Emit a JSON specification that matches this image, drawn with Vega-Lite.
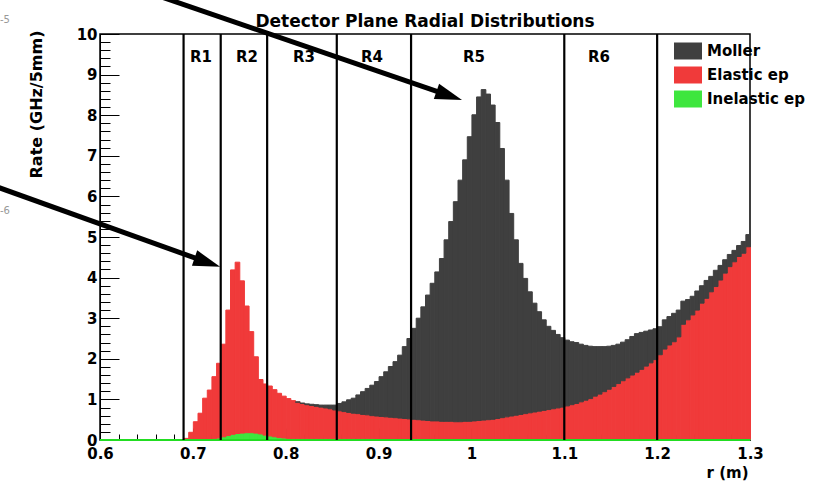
{
  "$schema": "https://vega.github.io/schema/vega-lite/v6.json",
  "width": 650,
  "height": 406,
  "autosize": {"type": "none"},
  "padding": {"left": 100, "top": 34, "right": 76, "bottom": 43},
  "background": "white",
  "title": {"text": "Detector Plane Radial Distributions", "font": "DejaVu Sans", "fontSize": 17, "fontWeight": "bold", "color": "black", "anchor": "middle", "baseline": "alphabetic", "offset": 0, "dy": 53.5, "frame": "group"},
  "config": {
    "view": {"stroke": "black", "strokeWidth": 1.5},
    "axis": {"grid": false, "domainColor": "black", "tickColor": "black", "labelColor": "black", "titleColor": "black", "labelFont": "DejaVu Sans", "labelFontWeight": "bold", "labelFontSize": 15, "titleFont": "DejaVu Sans", "titleFontWeight": "bold", "labelOverlap": false, "labelFlush": false}
  },
  "datasets": {
    "hist": [
      {"r":0.7,"r2":0.705,"s":"Inelastic ep","v":0.01,"k":1},
      {"r":0.705,"r2":0.71,"s":"Inelastic ep","v":0.01,"k":1},
      {"r":0.71,"r2":0.715,"s":"Inelastic ep","v":0.02,"k":1},
      {"r":0.715,"r2":0.72,"s":"Inelastic ep","v":0.02,"k":1},
      {"r":0.72,"r2":0.725,"s":"Inelastic ep","v":0.03,"k":1},
      {"r":0.725,"r2":0.73,"s":"Inelastic ep","v":0.05,"k":1},
      {"r":0.73,"r2":0.735,"s":"Inelastic ep","v":0.08,"k":1},
      {"r":0.735,"r2":0.74,"s":"Inelastic ep","v":0.11,"k":1},
      {"r":0.74,"r2":0.745,"s":"Inelastic ep","v":0.14,"k":1},
      {"r":0.745,"r2":0.75,"s":"Inelastic ep","v":0.16,"k":1},
      {"r":0.75,"r2":0.755,"s":"Inelastic ep","v":0.17,"k":1},
      {"r":0.755,"r2":0.76,"s":"Inelastic ep","v":0.18,"k":1},
      {"r":0.76,"r2":0.765,"s":"Inelastic ep","v":0.18,"k":1},
      {"r":0.765,"r2":0.77,"s":"Inelastic ep","v":0.17,"k":1},
      {"r":0.77,"r2":0.775,"s":"Inelastic ep","v":0.15,"k":1},
      {"r":0.775,"r2":0.78,"s":"Inelastic ep","v":0.12,"k":1},
      {"r":0.78,"r2":0.785,"s":"Inelastic ep","v":0.1,"k":1},
      {"r":0.785,"r2":0.79,"s":"Inelastic ep","v":0.08,"k":1},
      {"r":0.79,"r2":0.795,"s":"Inelastic ep","v":0.06,"k":1},
      {"r":0.795,"r2":0.8,"s":"Inelastic ep","v":0.05,"k":1},
      {"r":0.8,"r2":0.805,"s":"Inelastic ep","v":0.04,"k":1},
      {"r":0.805,"r2":0.81,"s":"Inelastic ep","v":0.03,"k":1},
      {"r":0.81,"r2":0.815,"s":"Inelastic ep","v":0.03,"k":1},
      {"r":0.815,"r2":0.82,"s":"Inelastic ep","v":0.03,"k":1},
      {"r":0.82,"r2":0.825,"s":"Inelastic ep","v":0.03,"k":1},
      {"r":0.825,"r2":0.83,"s":"Inelastic ep","v":0.03,"k":1},
      {"r":0.83,"r2":0.835,"s":"Inelastic ep","v":0.03,"k":1},
      {"r":0.835,"r2":0.84,"s":"Inelastic ep","v":0.03,"k":1},
      {"r":0.84,"r2":0.845,"s":"Inelastic ep","v":0.03,"k":1},
      {"r":0.845,"r2":0.85,"s":"Inelastic ep","v":0.03,"k":1},
      {"r":0.85,"r2":0.855,"s":"Inelastic ep","v":0.03,"k":1},
      {"r":0.855,"r2":0.86,"s":"Inelastic ep","v":0.03,"k":1},
      {"r":0.86,"r2":0.865,"s":"Inelastic ep","v":0.03,"k":1},
      {"r":0.865,"r2":0.87,"s":"Inelastic ep","v":0.03,"k":1},
      {"r":0.87,"r2":0.875,"s":"Inelastic ep","v":0.03,"k":1},
      {"r":0.875,"r2":0.88,"s":"Inelastic ep","v":0.03,"k":1},
      {"r":0.88,"r2":0.885,"s":"Inelastic ep","v":0.03,"k":1},
      {"r":0.885,"r2":0.89,"s":"Inelastic ep","v":0.03,"k":1},
      {"r":0.89,"r2":0.895,"s":"Inelastic ep","v":0.03,"k":1},
      {"r":0.895,"r2":0.9,"s":"Inelastic ep","v":0.02,"k":1},
      {"r":0.9,"r2":0.905,"s":"Inelastic ep","v":0.02,"k":1},
      {"r":0.905,"r2":0.91,"s":"Inelastic ep","v":0.02,"k":1},
      {"r":0.91,"r2":0.915,"s":"Inelastic ep","v":0.02,"k":1},
      {"r":0.915,"r2":0.92,"s":"Inelastic ep","v":0.02,"k":1},
      {"r":0.92,"r2":0.925,"s":"Inelastic ep","v":0.02,"k":1},
      {"r":0.925,"r2":0.93,"s":"Inelastic ep","v":0.02,"k":1},
      {"r":0.93,"r2":0.935,"s":"Inelastic ep","v":0.02,"k":1},
      {"r":0.935,"r2":0.94,"s":"Inelastic ep","v":0.02,"k":1},
      {"r":0.94,"r2":0.945,"s":"Inelastic ep","v":0.02,"k":1},
      {"r":0.945,"r2":0.95,"s":"Inelastic ep","v":0.02,"k":1},
      {"r":0.95,"r2":0.955,"s":"Inelastic ep","v":0.02,"k":1},
      {"r":0.955,"r2":0.96,"s":"Inelastic ep","v":0.02,"k":1},
      {"r":0.96,"r2":0.965,"s":"Inelastic ep","v":0.02,"k":1},
      {"r":0.965,"r2":0.97,"s":"Inelastic ep","v":0.02,"k":1},
      {"r":0.97,"r2":0.975,"s":"Inelastic ep","v":0.02,"k":1},
      {"r":0.975,"r2":0.98,"s":"Inelastic ep","v":0.02,"k":1},
      {"r":0.98,"r2":0.985,"s":"Inelastic ep","v":0.02,"k":1},
      {"r":0.985,"r2":0.99,"s":"Inelastic ep","v":0.02,"k":1},
      {"r":0.99,"r2":0.995,"s":"Inelastic ep","v":0.02,"k":1},
      {"r":0.995,"r2":1,"s":"Inelastic ep","v":0.02,"k":1},
      {"r":1,"r2":1.005,"s":"Inelastic ep","v":0.02,"k":1},
      {"r":1.005,"r2":1.01,"s":"Inelastic ep","v":0.02,"k":1},
      {"r":1.01,"r2":1.015,"s":"Inelastic ep","v":0.02,"k":1},
      {"r":1.015,"r2":1.02,"s":"Inelastic ep","v":0.02,"k":1},
      {"r":1.02,"r2":1.025,"s":"Inelastic ep","v":0.02,"k":1},
      {"r":1.025,"r2":1.03,"s":"Inelastic ep","v":0.02,"k":1},
      {"r":1.03,"r2":1.035,"s":"Inelastic ep","v":0.02,"k":1},
      {"r":1.035,"r2":1.04,"s":"Inelastic ep","v":0.02,"k":1},
      {"r":1.04,"r2":1.045,"s":"Inelastic ep","v":0.02,"k":1},
      {"r":1.045,"r2":1.05,"s":"Inelastic ep","v":0.02,"k":1},
      {"r":1.05,"r2":1.055,"s":"Inelastic ep","v":0.02,"k":1},
      {"r":1.055,"r2":1.06,"s":"Inelastic ep","v":0.02,"k":1},
      {"r":1.06,"r2":1.065,"s":"Inelastic ep","v":0.02,"k":1},
      {"r":1.065,"r2":1.07,"s":"Inelastic ep","v":0.02,"k":1},
      {"r":1.07,"r2":1.075,"s":"Inelastic ep","v":0.02,"k":1},
      {"r":1.075,"r2":1.08,"s":"Inelastic ep","v":0.02,"k":1},
      {"r":1.08,"r2":1.085,"s":"Inelastic ep","v":0.02,"k":1},
      {"r":1.085,"r2":1.09,"s":"Inelastic ep","v":0.02,"k":1},
      {"r":1.09,"r2":1.095,"s":"Inelastic ep","v":0.02,"k":1},
      {"r":1.095,"r2":1.1,"s":"Inelastic ep","v":0.02,"k":1},
      {"r":1.1,"r2":1.105,"s":"Inelastic ep","v":0.02,"k":1},
      {"r":1.105,"r2":1.11,"s":"Inelastic ep","v":0.02,"k":1},
      {"r":1.11,"r2":1.115,"s":"Inelastic ep","v":0.02,"k":1},
      {"r":1.115,"r2":1.12,"s":"Inelastic ep","v":0.02,"k":1},
      {"r":1.12,"r2":1.125,"s":"Inelastic ep","v":0.02,"k":1},
      {"r":1.125,"r2":1.13,"s":"Inelastic ep","v":0.02,"k":1},
      {"r":1.13,"r2":1.135,"s":"Inelastic ep","v":0.02,"k":1},
      {"r":1.135,"r2":1.14,"s":"Inelastic ep","v":0.02,"k":1},
      {"r":1.14,"r2":1.145,"s":"Inelastic ep","v":0.02,"k":1},
      {"r":1.145,"r2":1.15,"s":"Inelastic ep","v":0.02,"k":1},
      {"r":1.15,"r2":1.155,"s":"Inelastic ep","v":0.02,"k":1},
      {"r":1.155,"r2":1.16,"s":"Inelastic ep","v":0.02,"k":1},
      {"r":1.16,"r2":1.165,"s":"Inelastic ep","v":0.02,"k":1},
      {"r":1.165,"r2":1.17,"s":"Inelastic ep","v":0.02,"k":1},
      {"r":1.17,"r2":1.175,"s":"Inelastic ep","v":0.02,"k":1},
      {"r":1.175,"r2":1.18,"s":"Inelastic ep","v":0.02,"k":1},
      {"r":1.18,"r2":1.185,"s":"Inelastic ep","v":0.02,"k":1},
      {"r":1.185,"r2":1.19,"s":"Inelastic ep","v":0.02,"k":1},
      {"r":1.19,"r2":1.195,"s":"Inelastic ep","v":0.02,"k":1},
      {"r":1.195,"r2":1.2,"s":"Inelastic ep","v":0.02,"k":1},
      {"r":1.2,"r2":1.205,"s":"Inelastic ep","v":0.02,"k":1},
      {"r":1.205,"r2":1.21,"s":"Inelastic ep","v":0.02,"k":1},
      {"r":1.21,"r2":1.215,"s":"Inelastic ep","v":0.02,"k":1},
      {"r":1.215,"r2":1.22,"s":"Inelastic ep","v":0.02,"k":1},
      {"r":1.22,"r2":1.225,"s":"Inelastic ep","v":0.02,"k":1},
      {"r":1.225,"r2":1.23,"s":"Inelastic ep","v":0.02,"k":1},
      {"r":1.23,"r2":1.235,"s":"Inelastic ep","v":0.02,"k":1},
      {"r":1.235,"r2":1.24,"s":"Inelastic ep","v":0.02,"k":1},
      {"r":1.24,"r2":1.245,"s":"Inelastic ep","v":0.02,"k":1},
      {"r":1.245,"r2":1.25,"s":"Inelastic ep","v":0.02,"k":1},
      {"r":1.25,"r2":1.255,"s":"Inelastic ep","v":0.02,"k":1},
      {"r":1.255,"r2":1.26,"s":"Inelastic ep","v":0.02,"k":1},
      {"r":1.26,"r2":1.265,"s":"Inelastic ep","v":0.02,"k":1},
      {"r":1.265,"r2":1.27,"s":"Inelastic ep","v":0.02,"k":1},
      {"r":1.27,"r2":1.275,"s":"Inelastic ep","v":0.02,"k":1},
      {"r":1.275,"r2":1.28,"s":"Inelastic ep","v":0.02,"k":1},
      {"r":1.28,"r2":1.285,"s":"Inelastic ep","v":0.02,"k":1},
      {"r":1.285,"r2":1.29,"s":"Inelastic ep","v":0.02,"k":1},
      {"r":1.29,"r2":1.295,"s":"Inelastic ep","v":0.02,"k":1},
      {"r":1.295,"r2":1.3,"s":"Inelastic ep","v":0.02,"k":1},

      {"r":0.69,"r2":0.695,"s":"Elastic ep","v":0.04,"k":2},
      {"r":0.695,"r2":0.7,"s":"Elastic ep","v":0.19,"k":2},
      {"r":0.7,"r2":0.705,"s":"Elastic ep","v":0.44,"k":2},
      {"r":0.705,"r2":0.71,"s":"Elastic ep","v":0.65,"k":2},
      {"r":0.71,"r2":0.715,"s":"Elastic ep","v":1.01,"k":2},
      {"r":0.715,"r2":0.72,"s":"Elastic ep","v":1.21,"k":2},
      {"r":0.72,"r2":0.725,"s":"Elastic ep","v":1.53,"k":2},
      {"r":0.725,"r2":0.73,"s":"Elastic ep","v":1.84,"k":2},
      {"r":0.73,"r2":0.735,"s":"Elastic ep","v":2.28,"k":2},
      {"r":0.735,"r2":0.74,"s":"Elastic ep","v":3.09,"k":2},
      {"r":0.74,"r2":0.745,"s":"Elastic ep","v":4.05,"k":2},
      {"r":0.745,"r2":0.75,"s":"Elastic ep","v":4.22,"k":2},
      {"r":0.75,"r2":0.755,"s":"Elastic ep","v":3.75,"k":2},
      {"r":0.755,"r2":0.76,"s":"Elastic ep","v":3.12,"k":2},
      {"r":0.76,"r2":0.765,"s":"Elastic ep","v":2.49,"k":2},
      {"r":0.765,"r2":0.77,"s":"Elastic ep","v":1.88,"k":2},
      {"r":0.77,"r2":0.775,"s":"Elastic ep","v":1.34,"k":2},
      {"r":0.775,"r2":0.78,"s":"Elastic ep","v":1.26,"k":2},
      {"r":0.78,"r2":0.785,"s":"Elastic ep","v":1.23,"k":2},
      {"r":0.785,"r2":0.79,"s":"Elastic ep","v":1.16,"k":2},
      {"r":0.79,"r2":0.795,"s":"Elastic ep","v":1.09,"k":2},
      {"r":0.795,"r2":0.8,"s":"Elastic ep","v":1.03,"k":2},
      {"r":0.8,"r2":0.805,"s":"Elastic ep","v":0.98,"k":2},
      {"r":0.805,"r2":0.81,"s":"Elastic ep","v":0.94,"k":2},
      {"r":0.81,"r2":0.815,"s":"Elastic ep","v":0.9,"k":2},
      {"r":0.815,"r2":0.82,"s":"Elastic ep","v":0.87,"k":2},
      {"r":0.82,"r2":0.825,"s":"Elastic ep","v":0.84,"k":2},
      {"r":0.825,"r2":0.83,"s":"Elastic ep","v":0.82,"k":2},
      {"r":0.83,"r2":0.835,"s":"Elastic ep","v":0.8,"k":2},
      {"r":0.835,"r2":0.84,"s":"Elastic ep","v":0.78,"k":2},
      {"r":0.84,"r2":0.845,"s":"Elastic ep","v":0.76,"k":2},
      {"r":0.845,"r2":0.85,"s":"Elastic ep","v":0.74,"k":2},
      {"r":0.85,"r2":0.855,"s":"Elastic ep","v":0.71,"k":2},
      {"r":0.855,"r2":0.86,"s":"Elastic ep","v":0.69,"k":2},
      {"r":0.86,"r2":0.865,"s":"Elastic ep","v":0.67,"k":2},
      {"r":0.865,"r2":0.87,"s":"Elastic ep","v":0.65,"k":2},
      {"r":0.87,"r2":0.875,"s":"Elastic ep","v":0.63,"k":2},
      {"r":0.875,"r2":0.88,"s":"Elastic ep","v":0.62,"k":2},
      {"r":0.88,"r2":0.885,"s":"Elastic ep","v":0.6,"k":2},
      {"r":0.885,"r2":0.89,"s":"Elastic ep","v":0.59,"k":2},
      {"r":0.89,"r2":0.895,"s":"Elastic ep","v":0.57,"k":2},
      {"r":0.895,"r2":0.9,"s":"Elastic ep","v":0.57,"k":2},
      {"r":0.9,"r2":0.905,"s":"Elastic ep","v":0.56,"k":2},
      {"r":0.905,"r2":0.91,"s":"Elastic ep","v":0.55,"k":2},
      {"r":0.91,"r2":0.915,"s":"Elastic ep","v":0.54,"k":2},
      {"r":0.915,"r2":0.92,"s":"Elastic ep","v":0.53,"k":2},
      {"r":0.92,"r2":0.925,"s":"Elastic ep","v":0.52,"k":2},
      {"r":0.925,"r2":0.93,"s":"Elastic ep","v":0.51,"k":2},
      {"r":0.93,"r2":0.935,"s":"Elastic ep","v":0.5,"k":2},
      {"r":0.935,"r2":0.94,"s":"Elastic ep","v":0.49,"k":2},
      {"r":0.94,"r2":0.945,"s":"Elastic ep","v":0.48,"k":2},
      {"r":0.945,"r2":0.95,"s":"Elastic ep","v":0.47,"k":2},
      {"r":0.95,"r2":0.955,"s":"Elastic ep","v":0.46,"k":2},
      {"r":0.955,"r2":0.96,"s":"Elastic ep","v":0.45,"k":2},
      {"r":0.96,"r2":0.965,"s":"Elastic ep","v":0.45,"k":2},
      {"r":0.965,"r2":0.97,"s":"Elastic ep","v":0.44,"k":2},
      {"r":0.97,"r2":0.975,"s":"Elastic ep","v":0.44,"k":2},
      {"r":0.975,"r2":0.98,"s":"Elastic ep","v":0.44,"k":2},
      {"r":0.98,"r2":0.985,"s":"Elastic ep","v":0.43,"k":2},
      {"r":0.985,"r2":0.99,"s":"Elastic ep","v":0.43,"k":2},
      {"r":0.99,"r2":0.995,"s":"Elastic ep","v":0.44,"k":2},
      {"r":0.995,"r2":1,"s":"Elastic ep","v":0.44,"k":2},
      {"r":1,"r2":1.005,"s":"Elastic ep","v":0.45,"k":2},
      {"r":1.005,"r2":1.01,"s":"Elastic ep","v":0.46,"k":2},
      {"r":1.01,"r2":1.015,"s":"Elastic ep","v":0.47,"k":2},
      {"r":1.015,"r2":1.02,"s":"Elastic ep","v":0.48,"k":2},
      {"r":1.02,"r2":1.025,"s":"Elastic ep","v":0.49,"k":2},
      {"r":1.025,"r2":1.03,"s":"Elastic ep","v":0.51,"k":2},
      {"r":1.03,"r2":1.035,"s":"Elastic ep","v":0.53,"k":2},
      {"r":1.035,"r2":1.04,"s":"Elastic ep","v":0.55,"k":2},
      {"r":1.04,"r2":1.045,"s":"Elastic ep","v":0.57,"k":2},
      {"r":1.045,"r2":1.05,"s":"Elastic ep","v":0.59,"k":2},
      {"r":1.05,"r2":1.055,"s":"Elastic ep","v":0.61,"k":2},
      {"r":1.055,"r2":1.06,"s":"Elastic ep","v":0.63,"k":2},
      {"r":1.06,"r2":1.065,"s":"Elastic ep","v":0.65,"k":2},
      {"r":1.065,"r2":1.07,"s":"Elastic ep","v":0.67,"k":2},
      {"r":1.07,"r2":1.075,"s":"Elastic ep","v":0.69,"k":2},
      {"r":1.075,"r2":1.08,"s":"Elastic ep","v":0.71,"k":2},
      {"r":1.08,"r2":1.085,"s":"Elastic ep","v":0.73,"k":2},
      {"r":1.085,"r2":1.09,"s":"Elastic ep","v":0.75,"k":2},
      {"r":1.09,"r2":1.095,"s":"Elastic ep","v":0.77,"k":2},
      {"r":1.095,"r2":1.1,"s":"Elastic ep","v":0.79,"k":2},
      {"r":1.1,"r2":1.105,"s":"Elastic ep","v":0.82,"k":2},
      {"r":1.105,"r2":1.11,"s":"Elastic ep","v":0.85,"k":2},
      {"r":1.11,"r2":1.115,"s":"Elastic ep","v":0.88,"k":2},
      {"r":1.115,"r2":1.12,"s":"Elastic ep","v":0.92,"k":2},
      {"r":1.12,"r2":1.125,"s":"Elastic ep","v":0.96,"k":2},
      {"r":1.125,"r2":1.13,"s":"Elastic ep","v":1.0,"k":2},
      {"r":1.13,"r2":1.135,"s":"Elastic ep","v":1.06,"k":2},
      {"r":1.135,"r2":1.14,"s":"Elastic ep","v":1.11,"k":2},
      {"r":1.14,"r2":1.145,"s":"Elastic ep","v":1.17,"k":2},
      {"r":1.145,"r2":1.15,"s":"Elastic ep","v":1.23,"k":2},
      {"r":1.15,"r2":1.155,"s":"Elastic ep","v":1.3,"k":2},
      {"r":1.155,"r2":1.16,"s":"Elastic ep","v":1.37,"k":2},
      {"r":1.16,"r2":1.165,"s":"Elastic ep","v":1.44,"k":2},
      {"r":1.165,"r2":1.17,"s":"Elastic ep","v":1.51,"k":2},
      {"r":1.17,"r2":1.175,"s":"Elastic ep","v":1.58,"k":2},
      {"r":1.175,"r2":1.18,"s":"Elastic ep","v":1.65,"k":2},
      {"r":1.18,"r2":1.185,"s":"Elastic ep","v":1.72,"k":2},
      {"r":1.185,"r2":1.19,"s":"Elastic ep","v":1.8,"k":2},
      {"r":1.19,"r2":1.195,"s":"Elastic ep","v":1.88,"k":2},
      {"r":1.195,"r2":1.2,"s":"Elastic ep","v":1.96,"k":2},
      {"r":1.2,"r2":1.205,"s":"Elastic ep","v":2.08,"k":2},
      {"r":1.205,"r2":1.21,"s":"Elastic ep","v":2.22,"k":2},
      {"r":1.21,"r2":1.215,"s":"Elastic ep","v":2.32,"k":2},
      {"r":1.215,"r2":1.22,"s":"Elastic ep","v":2.4,"k":2},
      {"r":1.22,"r2":1.225,"s":"Elastic ep","v":2.52,"k":2},
      {"r":1.225,"r2":1.23,"s":"Elastic ep","v":2.83,"k":2},
      {"r":1.23,"r2":1.235,"s":"Elastic ep","v":2.94,"k":2},
      {"r":1.235,"r2":1.24,"s":"Elastic ep","v":3.06,"k":2},
      {"r":1.24,"r2":1.245,"s":"Elastic ep","v":3.18,"k":2},
      {"r":1.245,"r2":1.25,"s":"Elastic ep","v":3.35,"k":2},
      {"r":1.25,"r2":1.255,"s":"Elastic ep","v":3.47,"k":2},
      {"r":1.255,"r2":1.26,"s":"Elastic ep","v":3.63,"k":2},
      {"r":1.26,"r2":1.265,"s":"Elastic ep","v":3.76,"k":2},
      {"r":1.265,"r2":1.27,"s":"Elastic ep","v":3.92,"k":2},
      {"r":1.27,"r2":1.275,"s":"Elastic ep","v":4.09,"k":2},
      {"r":1.275,"r2":1.28,"s":"Elastic ep","v":4.25,"k":2},
      {"r":1.28,"r2":1.285,"s":"Elastic ep","v":4.37,"k":2},
      {"r":1.285,"r2":1.29,"s":"Elastic ep","v":4.5,"k":2},
      {"r":1.29,"r2":1.295,"s":"Elastic ep","v":4.58,"k":2},
      {"r":1.295,"r2":1.3,"s":"Elastic ep","v":4.74,"k":2},

      {"r":0.81,"r2":0.815,"s":"Moller","v":0.01,"k":3},
      {"r":0.815,"r2":0.82,"s":"Moller","v":0.01,"k":3},
      {"r":0.82,"r2":0.825,"s":"Moller","v":0.02,"k":3},
      {"r":0.825,"r2":0.83,"s":"Moller","v":0.03,"k":3},
      {"r":0.83,"r2":0.835,"s":"Moller","v":0.04,"k":3},
      {"r":0.835,"r2":0.84,"s":"Moller","v":0.05,"k":3},
      {"r":0.84,"r2":0.845,"s":"Moller","v":0.07,"k":3},
      {"r":0.845,"r2":0.85,"s":"Moller","v":0.09,"k":3},
      {"r":0.85,"r2":0.855,"s":"Moller","v":0.12,"k":3},
      {"r":0.855,"r2":0.86,"s":"Moller","v":0.18,"k":3},
      {"r":0.86,"r2":0.865,"s":"Moller","v":0.24,"k":3},
      {"r":0.865,"r2":0.87,"s":"Moller","v":0.31,"k":3},
      {"r":0.87,"r2":0.875,"s":"Moller","v":0.37,"k":3},
      {"r":0.875,"r2":0.88,"s":"Moller","v":0.46,"k":3},
      {"r":0.88,"r2":0.885,"s":"Moller","v":0.56,"k":3},
      {"r":0.885,"r2":0.89,"s":"Moller","v":0.65,"k":3},
      {"r":0.89,"r2":0.895,"s":"Moller","v":0.75,"k":3},
      {"r":0.895,"r2":0.9,"s":"Moller","v":0.85,"k":3},
      {"r":0.9,"r2":0.905,"s":"Moller","v":0.98,"k":3},
      {"r":0.905,"r2":0.91,"s":"Moller","v":1.11,"k":3},
      {"r":0.91,"r2":0.915,"s":"Moller","v":1.25,"k":3},
      {"r":0.915,"r2":0.92,"s":"Moller","v":1.38,"k":3},
      {"r":0.92,"r2":0.925,"s":"Moller","v":1.55,"k":3},
      {"r":0.925,"r2":0.93,"s":"Moller","v":1.77,"k":3},
      {"r":0.93,"r2":0.935,"s":"Moller","v":1.98,"k":3},
      {"r":0.935,"r2":0.94,"s":"Moller","v":2.24,"k":3},
      {"r":0.94,"r2":0.945,"s":"Moller","v":2.5,"k":3},
      {"r":0.945,"r2":0.95,"s":"Moller","v":2.79,"k":3},
      {"r":0.95,"r2":0.955,"s":"Moller","v":3.09,"k":3},
      {"r":0.955,"r2":0.96,"s":"Moller","v":3.39,"k":3},
      {"r":0.96,"r2":0.965,"s":"Moller","v":3.67,"k":3},
      {"r":0.965,"r2":0.97,"s":"Moller","v":4.01,"k":3},
      {"r":0.97,"r2":0.975,"s":"Moller","v":4.47,"k":3},
      {"r":0.975,"r2":0.98,"s":"Moller","v":4.92,"k":3},
      {"r":0.98,"r2":0.985,"s":"Moller","v":5.42,"k":3},
      {"r":0.985,"r2":0.99,"s":"Moller","v":5.95,"k":3},
      {"r":0.99,"r2":0.995,"s":"Moller","v":6.44,"k":3},
      {"r":0.995,"r2":1,"s":"Moller","v":7.01,"k":3},
      {"r":1,"r2":1.005,"s":"Moller","v":7.54,"k":3},
      {"r":1.005,"r2":1.01,"s":"Moller","v":7.97,"k":3},
      {"r":1.01,"r2":1.015,"s":"Moller","v":8.14,"k":3},
      {"r":1.015,"r2":1.02,"s":"Moller","v":8.02,"k":3},
      {"r":1.02,"r2":1.025,"s":"Moller","v":7.74,"k":3},
      {"r":1.025,"r2":1.03,"s":"Moller","v":7.29,"k":3},
      {"r":1.03,"r2":1.035,"s":"Moller","v":6.63,"k":3},
      {"r":1.035,"r2":1.04,"s":"Moller","v":5.83,"k":3},
      {"r":1.04,"r2":1.045,"s":"Moller","v":4.99,"k":3},
      {"r":1.045,"r2":1.05,"s":"Moller","v":4.32,"k":3},
      {"r":1.05,"r2":1.055,"s":"Moller","v":3.72,"k":3},
      {"r":1.055,"r2":1.06,"s":"Moller","v":3.33,"k":3},
      {"r":1.06,"r2":1.065,"s":"Moller","v":2.98,"k":3},
      {"r":1.065,"r2":1.07,"s":"Moller","v":2.68,"k":3},
      {"r":1.07,"r2":1.075,"s":"Moller","v":2.45,"k":3},
      {"r":1.075,"r2":1.08,"s":"Moller","v":2.23,"k":3},
      {"r":1.08,"r2":1.085,"s":"Moller","v":2.05,"k":3},
      {"r":1.085,"r2":1.09,"s":"Moller","v":1.93,"k":3},
      {"r":1.09,"r2":1.095,"s":"Moller","v":1.81,"k":3},
      {"r":1.095,"r2":1.1,"s":"Moller","v":1.71,"k":3},
      {"r":1.1,"r2":1.105,"s":"Moller","v":1.62,"k":3},
      {"r":1.105,"r2":1.11,"s":"Moller","v":1.55,"k":3},
      {"r":1.11,"r2":1.115,"s":"Moller","v":1.5,"k":3},
      {"r":1.115,"r2":1.12,"s":"Moller","v":1.42,"k":3},
      {"r":1.12,"r2":1.125,"s":"Moller","v":1.35,"k":3},
      {"r":1.125,"r2":1.13,"s":"Moller","v":1.29,"k":3},
      {"r":1.13,"r2":1.135,"s":"Moller","v":1.22,"k":3},
      {"r":1.135,"r2":1.14,"s":"Moller","v":1.17,"k":3},
      {"r":1.14,"r2":1.145,"s":"Moller","v":1.11,"k":3},
      {"r":1.145,"r2":1.15,"s":"Moller","v":1.06,"k":3},
      {"r":1.15,"r2":1.155,"s":"Moller","v":1.01,"k":3},
      {"r":1.155,"r2":1.16,"s":"Moller","v":0.97,"k":3},
      {"r":1.16,"r2":1.165,"s":"Moller","v":0.95,"k":3},
      {"r":1.165,"r2":1.17,"s":"Moller","v":0.94,"k":3},
      {"r":1.17,"r2":1.175,"s":"Moller","v":0.95,"k":3},
      {"r":1.175,"r2":1.18,"s":"Moller","v":0.95,"k":3},
      {"r":1.18,"r2":1.185,"s":"Moller","v":0.91,"k":3},
      {"r":1.185,"r2":1.19,"s":"Moller","v":0.86,"k":3},
      {"r":1.19,"r2":1.195,"s":"Moller","v":0.81,"k":3},
      {"r":1.195,"r2":1.2,"s":"Moller","v":0.76,"k":3},
      {"r":1.2,"r2":1.205,"s":"Moller","v":0.69,"k":3},
      {"r":1.205,"r2":1.21,"s":"Moller","v":0.72,"k":3},
      {"r":1.21,"r2":1.215,"s":"Moller","v":0.7,"k":3},
      {"r":1.215,"r2":1.22,"s":"Moller","v":0.7,"k":3},
      {"r":1.22,"r2":1.225,"s":"Moller","v":0.66,"k":3},
      {"r":1.225,"r2":1.23,"s":"Moller","v":0.57,"k":3},
      {"r":1.23,"r2":1.235,"s":"Moller","v":0.5,"k":3},
      {"r":1.235,"r2":1.24,"s":"Moller","v":0.46,"k":3},
      {"r":1.24,"r2":1.245,"s":"Moller","v":0.47,"k":3},
      {"r":1.245,"r2":1.25,"s":"Moller","v":0.43,"k":3},
      {"r":1.25,"r2":1.255,"s":"Moller","v":0.44,"k":3},
      {"r":1.255,"r2":1.26,"s":"Moller","v":0.38,"k":3},
      {"r":1.26,"r2":1.265,"s":"Moller","v":0.4,"k":3},
      {"r":1.265,"r2":1.27,"s":"Moller","v":0.36,"k":3},
      {"r":1.27,"r2":1.275,"s":"Moller","v":0.33,"k":3},
      {"r":1.275,"r2":1.28,"s":"Moller","v":0.3,"k":3},
      {"r":1.28,"r2":1.285,"s":"Moller","v":0.28,"k":3},
      {"r":1.285,"r2":1.29,"s":"Moller","v":0.27,"k":3},
      {"r":1.29,"r2":1.295,"s":"Moller","v":0.29,"k":3},
      {"r":1.295,"r2":1.3,"s":"Moller","v":0.3,"k":3}
    ],
    "rings": [
      {"edge": 0.69}, {"edge": 0.73}, {"edge": 0.78}, {"edge": 0.855}, {"edge": 0.935}, {"edge": 1.1}, {"edge": 1.2}
    ],
    "ringLabels": [
      {"name": "R1", "c": 0.7088},
      {"name": "R2", "c": 0.7583},
      {"name": "R3", "c": 0.8197},
      {"name": "R4", "c": 0.8929},
      {"name": "R5", "c": 1.0028},
      {"name": "R6", "c": 1.1374}
    ],
    "arrows": [
      {"x0": 0.6538, "y0": 11.01, "x1": 0.9761, "y1": 8.48},
      {"x0": 0.4869, "y0": 6.251, "x1": 0.7156, "y1": 4.374}
    ],
    "frags": [
      {"t": "-5", "x": 0.4923, "y": 10.34},
      {"t": "-6", "x": 0.4923, "y": 5.64}
    ],
    "base": [
      {"a": 0.6, "b": 1.3, "z": 0}
    ]
  },
  "layer": [
    {
      "data": {"name": "hist"},
      "mark": {"type": "bar", "strokeWidth": 1, "binSpacing": 0},
      "encoding": {
        "x": {
          "field": "r", "type": "quantitative", "bin": "binned",
          "scale": {"domain": [0.6, 1.3], "nice": false, "zero": false},
          "axis": {
            "values": [0.6,0.62,0.64,0.66,0.68,0.7,0.72,0.74,0.76,0.78,0.8,0.82,0.84,0.86,0.88,0.9,0.92,0.94,0.96,0.98,1,1.02,1.04,1.06,1.08,1.1,1.12,1.14,1.16,1.18,1.2,1.22,1.24,1.26,1.28,1.3],
            "tickCount": 500,
            "labelExpr": "abs(datum.value*10-round(datum.value*10))<0.001 ? format(datum.value,'~g') : ''",
            "tickSize": {"condition": {"test": "abs(datum.value*10-round(datum.value*10))<0.001", "value": -12}, "value": -6},
            "labelPadding": 18,
            "labelOverlap": false,
            "labelFlush": false,
            "labelBound": false,
            "title": "r (m)",
            "titleFontSize": 15,
            "titleAnchor": "end",
            "titleAlign": "right",
            "titleBaseline": "alphabetic",
            "titleX": 648,
            "titleY": 37
          }
        },
        "x2": {"field": "r2"},
        "y": {
          "field": "v", "type": "quantitative", "stack": "zero",
          "scale": {"domain": [0, 10], "nice": false},
          "axis": {
            "values": [0,0.2,0.4,0.6,0.8,1,1.2,1.4,1.6,1.8,2,2.2,2.4,2.6,2.8,3,3.2,3.4,3.6,3.8,4,4.2,4.4,4.6,4.8,5,5.2,5.4,5.6,5.8,6,6.2,6.4,6.6,6.8,7,7.2,7.4,7.6,7.8,8,8.2,8.4,8.6,8.8,9,9.2,9.4,9.6,9.8,10],
            "tickCount": 500,
            "labelExpr": "abs(datum.value-round(datum.value))<0.001 ? format(datum.value,'d') : ''",
            "tickSize": {"condition": {"test": "abs(datum.value-round(datum.value))<0.001", "value": -19}, "value": -10},
            "labelPadding": 22,
            "labelOverlap": false,
            "labelFlush": false,
            "labelBound": false,
            "title": "Rate (GHz/5mm)",
            "titleFontSize": 16,
            "titleAnchor": "end",
            "titleAlign": "right",
            "titleBaseline": "bottom",
            "titleAngle": -90,
            "titleX": -56,
            "titleY": -4
          }
        },
        "color": {
          "field": "s", "type": "nominal",
          "scale": {"domain": ["Moller", "Elastic ep", "Inelastic ep"], "range": ["#3f3f3f", "#f03a3a", "#3ee63e"]},
          "legend": {
            "orient": "none", "legendX": 579.5, "legendY": 8.5, "title": null,
            "symbolType": "M-1.647,-1L1.647,-1L1.647,1L-1.647,1Z",
            "symbolSize": 289, "symbolStrokeWidth": 0, "symbolOpacity": 1,
            "labelFont": "DejaVu Sans", "labelFontWeight": "bold", "labelFontSize": 15, "labelColor": "black",
            "labelOffset": 10.5, "rowPadding": 7, "padding": 0
          }
        },
        "stroke": {
          "field": "s", "type": "nominal",
          "scale": {"domain": ["Moller", "Elastic ep", "Inelastic ep"], "range": ["#3f3f3f", "#f03a3a", "#3ee63e"]},
          "legend": null
        },
        "order": {"field": "k", "type": "quantitative", "sort": "ascending"}
      }
    },
    {
      "data": {"name": "base"},
      "mark": {"type": "rule", "color": "#22dd22", "strokeWidth": 2},
      "encoding": {
        "x": {"field": "a", "type": "quantitative"},
        "x2": {"field": "b"},
        "y": {"field": "z", "type": "quantitative"}
      }
    },
    {
      "data": {"name": "rings"},
      "mark": {"type": "rule", "color": "black", "strokeWidth": 2.2},
      "encoding": {
        "x": {"field": "edge", "type": "quantitative"}
      }
    },
    {
      "data": {"name": "ringLabels"},
      "mark": {"type": "text", "font": "DejaVu Sans", "fontWeight": "bold", "fontSize": 15, "color": "black", "align": "center", "baseline": "alphabetic"},
      "encoding": {
        "x": {"field": "c", "type": "quantitative"},
        "y": {"datum": 9.3},
        "text": {"field": "name"}
      }
    },
    {
      "data": {"name": "arrows"},
      "mark": {"type": "rule", "color": "black", "strokeWidth": 5},
      "encoding": {
        "x": {"field": "x0", "type": "quantitative"},
        "y": {"field": "y0", "type": "quantitative"},
        "x2": {"field": "x1"},
        "y2": {"field": "y1"}
      }
    },
    {
      "data": {"name": "arrows"},
      "mark": {"type": "point", "shape": "M1,0L-1,-0.6L-1,0.6Z", "size": 729, "filled": true, "color": "black", "opacity": 1, "angle": 19},
      "encoding": {
        "x": {"field": "x1", "type": "quantitative"},
        "y": {"field": "y1", "type": "quantitative"}
      }
    },
    {
      "data": {"name": "frags"},
      "mark": {"type": "text", "font": "DejaVu Sans", "fontSize": 10, "color": "#999999", "align": "left", "baseline": "middle"},
      "encoding": {
        "x": {"field": "x", "type": "quantitative"},
        "y": {"field": "y", "type": "quantitative"},
        "text": {"field": "t"}
      }
    }
  ]
}
